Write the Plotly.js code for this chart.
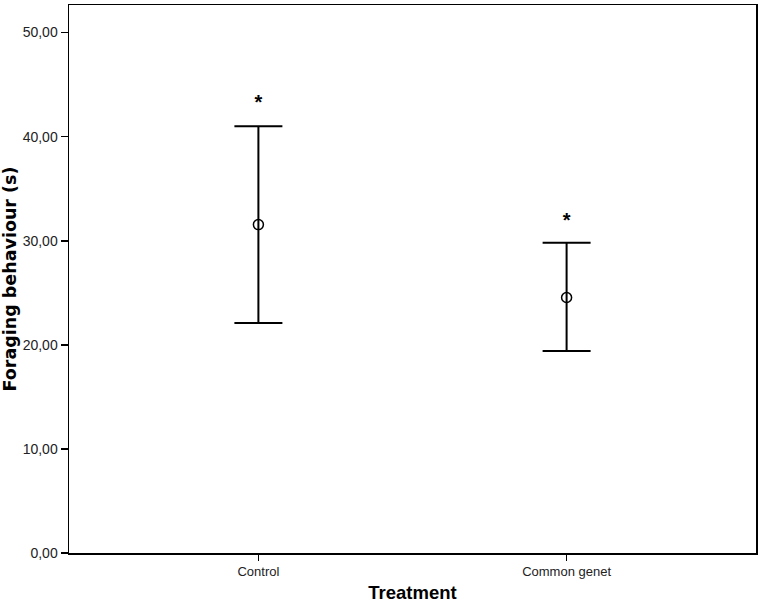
<!DOCTYPE html>
<html>
<head>
<meta charset="utf-8">
<script src="https://cdn.plot.ly/plotly-3.0.1.min.js"></script>
<style>html,body{margin:0;padding:0;background:#fff;}#chart{width:760px;height:606px;}</style>
</head>
<body>
<div id="chart"></div>
<script>
var categories = ["Control", "Common genet"];
var means = [31.55, 24.55];
var upper = [41.0, 29.8];
var lower = [22.1, 19.4];
var markY = [43.1, 31.8];
var markText = ["*", "*"];
var yTickVals = [0, 10, 20, 30, 40, 50];
var yTickText = ["0,00", "10,00", "20,00", "30,00", "40,00", "50,00"];

var errPlus = upper.map(function (u, i) { return u - means[i]; });
var errMinus = lower.map(function (l, i) { return means[i] - l; });

var traces = [
  {
    type: "scatter", mode: "markers", x: categories, y: means,
    marker: { symbol: "circle-open", size: 10, color: "#000", line: { width: 1.5, color: "#000" } },
    error_y: { type: "data", symmetric: false, array: errPlus, arrayminus: errMinus,
               color: "#000", thickness: 2, width: 24 },
    hoverinfo: "none", showlegend: false
  },
  {
    type: "scatter", mode: "text", x: categories, y: markY, text: markText,
    textfont: { family: "Liberation Sans, Arial, sans-serif", size: 20, color: "#000", weight: "bold" },
    textposition: "middle center", hoverinfo: "none", showlegend: false
  }
];

var layout = {
  width: 760, height: 606,
  margin: { l: 69, r: 4, t: 5, b: 53 },
  paper_bgcolor: "#fff", plot_bgcolor: "#fff",
  showlegend: false,
  xaxis: {
    type: "category", range: [-0.6145, 1.6145],
    showline: true, mirror: true, linecolor: "#000", linewidth: 1.5,
    showgrid: false, zeroline: false,
    ticks: "outside", ticklen: 6, tickwidth: 1.5, tickcolor: "#000",
    tickfont: { family: "Liberation Sans, Arial, sans-serif", size: 13, color: "#222" },
    title: { text: "Treatment", standoff: 8,
             font: { family: "Liberation Sans, Arial, sans-serif", size: 18.5, color: "#000", weight: "bold" } }
  },
  yaxis: {
    range: [0, 52.65],
    showline: true, mirror: true, linecolor: "#000", linewidth: 1.5,
    showgrid: false, zeroline: false,
    tickvals: yTickVals, ticktext: yTickText,
    ticks: "outside", ticklen: 7, tickwidth: 1.5, tickcolor: "#000",
    tickfont: { family: "Liberation Sans, Arial, sans-serif", size: 14, color: "#222" },
    title: { text: "Foraging behaviour (s)", standoff: 6,
             font: { family: "DejaVu Sans, sans-serif", size: 17.5, color: "#000", weight: "bold" } }
  }
};

Plotly.newPlot("chart", traces, layout, { displayModeBar: false, staticPlot: true });
</script>
</body>
</html>
